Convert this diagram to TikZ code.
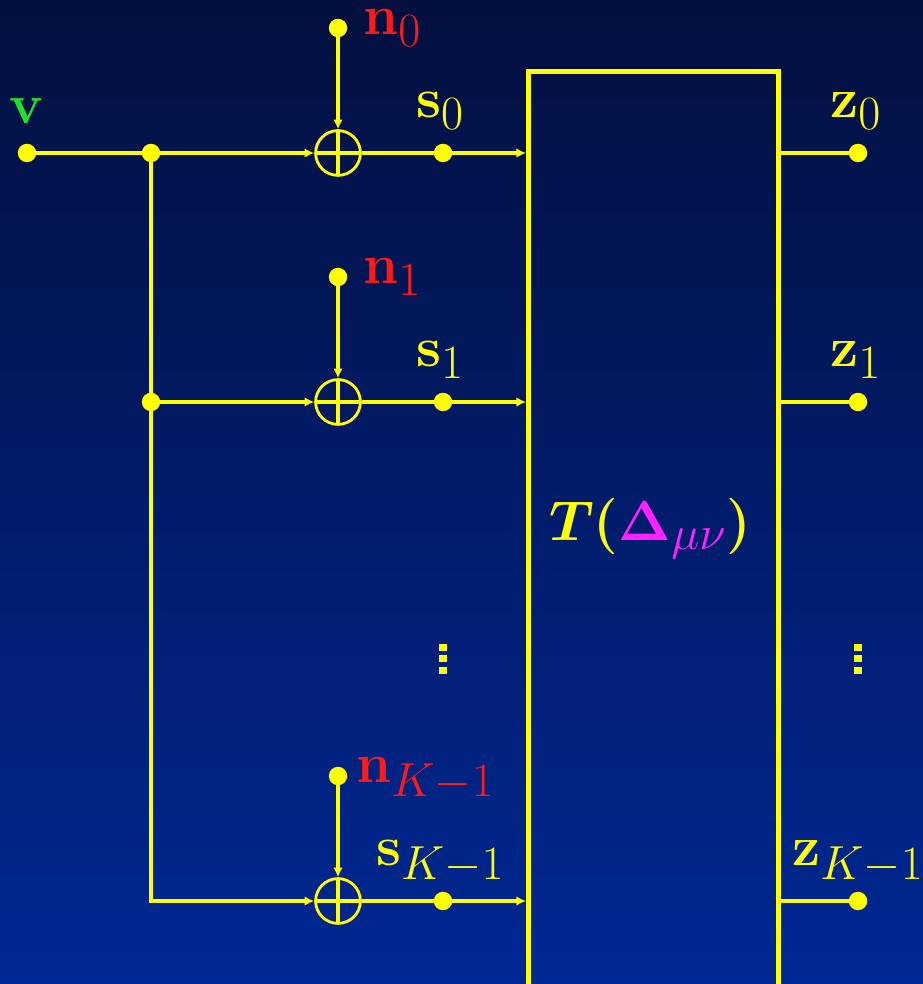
\RequirePackage{fix-cm}
\documentclass[tikz,border=0pt]{standalone}
\usepackage{amsmath}
\usepackage{xcolor}
\usetikzlibrary{arrows.meta,positioning,calc}
\definecolor{skyTop}{HTML}{030F3E}
\definecolor{skyBot}{HTML}{002894}
\definecolor{wire}{HTML}{FFFF00}
\definecolor{sigGreen}{HTML}{22E02A}
\definecolor{noiseRed}{HTML}{FF1A1A}
\definecolor{opMag}{HTML}{FF22FF}
\DeclareMathSizes{40}{40}{34}{28}
\tikzset{
  >=Stealth,
  % --- wires ---------------------------------------------------------------
  wireln/.style  = {draw=wire, line width=2.3pt},
  feed/.style    = {wireln, -{Latex[length=2.4mm,width=2.4mm]}},
  % --- nodes ---------------------------------------------------------------
  tap/.style     = {circle, fill=wire, inner sep=0pt, minimum size=4.6mm},
  adder/.style   = {circle, draw=wire, line width=2pt, inner sep=0pt,
                    minimum size=11.2mm,
                    path picture={\draw[wire, line width=2.3pt]
                      (path picture bounding box.north) --
                      (path picture bounding box.south)
                      (path picture bounding box.west) --
                      (path picture bounding box.east);}},
  blockbox/.style = {draw=wire, line width=3.6pt, inner sep=0pt,
                    minimum width=62.5mm, minimum height=236mm,
                    anchor=north west},
  dotsq/.style   = {fill=wire, inner sep=0pt, minimum width=2mm,
                    minimum height=1.8mm},
  % --- labels --------------------------------------------------------------
  lbl/.style     = {font=\fontsize{40}{48}\selectfont, inner sep=0pt},
}

\begin{document}
\begin{tikzpicture}

% ============================ background ===================================
\clip (0,0) rectangle (23.075,24.6);
\shade[top color=skyTop, bottom color=skyBot] (0,0) rectangle (23.075,24.6);

% ============================ the transform block ==========================
\node[blockbox] (blk) at (13.15,22.875) {};
\node[lbl, text=wire, anchor=base] (tlab) at (16.25,11.075)
     {$\boldsymbol{T(}\textcolor{opMag}{\mathbf{\Delta}_{\mu\nu}}\boldsymbol{)}$};

% ============================ input and branch taps ========================
\node[tap] (vin) at (0.675,20.775) {};
\node[lbl, text=sigGreen, anchor=base] (vlab) at (0.675,21.5) {$\mathbf{v}$};
\node[tap] (br0) at (3.775,20.775) {};
\node[tap] (br1) at (3.775,14.55) {};

% ============================ the K branches ===============================
\foreach \r/\y/\sub/\nx/\sx/\zx in {0/20.775/0/9.075/10.4/20.75,
                                    1/14.55/1/9.075/10.4/20.75,
                                    2/2.075/K-1/8.9/9.4/19.8}{
  \node[adder] (add\r) at (8.45,\y) {};
  \node[tap]   (nd\r)  at (8.45,\y+3.125) {};
  \node[tap]   (sd\r)  at (11.075,\y) {};
  \node[tap]   (zd\r)  at (21.45,\y) {};

  \node[lbl, text=noiseRed, anchor=base west] (nlab\r) at (\nx,\y+2.95)
       {$\mathbf{n}_{\sub}$};
  \node[lbl, text=wire, anchor=base west] (slab\r) at (\sx,\y+0.875)
       {$\mathbf{s}_{\sub}$};
  \node[lbl, text=wire, anchor=base west] (zlab\r) at (\zx,\y+0.875)
       {$\mathbf{z}_{\sub}$};

  \draw[feed]   (nd\r) -- (add\r);
  \draw[wireln] (add\r) -- (sd\r);
  \draw[feed]   (sd\r) -- (sd\r -| blk.west);
  \draw[wireln] (blk.east |- zd\r) -- (zd\r);
}

% ============================ fan-out wiring ===============================
\draw[wireln] (vin) -- (br0);
\draw[feed]   (br0) -- (add0);
\draw[feed]   (br1) -- (add1);
\draw[feed]   (br0) |- (add2);

% ============================ ellipses =====================================
\foreach \k in {0,1,2}{
  \node[dotsq] (sdot\k) at (11.075,{8.13-0.29*(\k-1)}) {};
  \node[dotsq] (zdot\k) at (21.45,{8.13-0.29*(\k-1)}) {};
}

\end{tikzpicture}
\end{document}
